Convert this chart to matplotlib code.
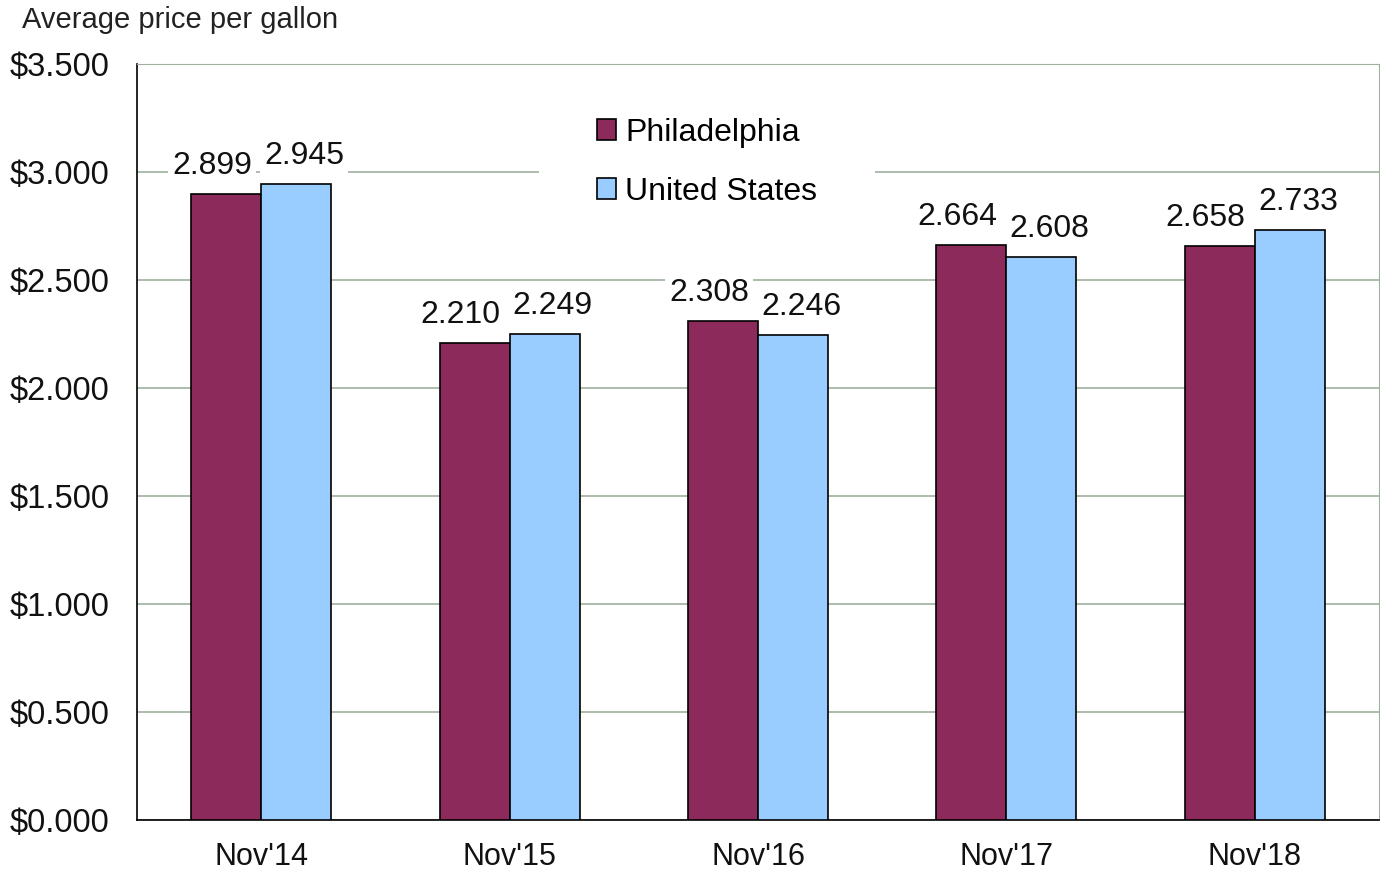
import matplotlib.pyplot as plt
import numpy as np

plt.rcParams['font.family'] = ['Liberation Sans', 'DejaVu Sans']

months = ["Nov'14", "Nov'15", "Nov'16", "Nov'17", "Nov'18"]
philadelphia = [2.899, 2.210, 2.308, 2.664, 2.658]
united_states = [2.945, 2.249, 2.246, 2.608, 2.733]
yticks = [0.0, 0.5, 1.0, 1.5, 2.0, 2.5, 3.0, 3.5]

col_phl = '#8C2A5C'
col_us = '#99CCFF'
grid_col = '#9fb09f'

fig = plt.figure(figsize=(13.8, 8.74), dpi=100)
ax = fig.add_axes([0.0993, 0.0618, 0.9, 0.865])

x = np.arange(len(months))
w = 0.282
b1 = ax.bar(x - w / 2, philadelphia, w, color=col_phl, edgecolor='black', linewidth=1.2,
            label='Philadelphia', zorder=3)
b2 = ax.bar(x + w / 2, united_states, w, color=col_us, edgecolor='black', linewidth=1.2,
            label='United States', zorder=3)

# value labels with white boxes that break the gridlines
for bars, dx in [(b1, -14), (b2, 8)]:
    for r in bars:
        h = r.get_height()
        ax.annotate(f"{h:.3f}", xy=(r.get_x() + r.get_width() / 2, h),
                    xytext=(dx, 13), textcoords='offset pixels',
                    ha='center', va='bottom', fontsize=23, color='#111111', zorder=2.8,
                    bbox=dict(facecolor='white', edgecolor='none', pad=3))

ax.set_xlim(-0.5, len(months) - 0.5)
ax.set_ylim(0, 3.5)
ax.set_yticks(yticks)
ax.set_yticklabels([f"${v:.3f}" for v in yticks], fontsize=23.5, color='#111111')
ax.set_xticks(x)
ax.set_xticklabels(months, fontsize=22, color='#111111')
ax.tick_params(axis='both', length=0)
ax.tick_params(axis='x', pad=16)
ax.tick_params(axis='y', pad=20)

ax.yaxis.grid(True, color=grid_col, linewidth=1.2, zorder=0)
ax.set_axisbelow(True)
for s in ['top', 'right']:
    ax.spines[s].set_color(grid_col)
for s in ['left', 'bottom']:
    ax.spines[s].set_color('black')
    ax.spines[s].set_linewidth(1.2)
ax.spines['top'].set_zorder(6)

leg = ax.legend(loc='center', bbox_to_anchor=(0.459, 0.87), fontsize=23,
                frameon=True, facecolor='white', edgecolor='none', framealpha=1,
                fancybox=False, borderpad=1.0, labelspacing=0.9,
                handlelength=0.6, handleheight=0.6, handletextpad=0.3,
                borderaxespad=0)
leg.get_frame().set_boxstyle('square', pad=0.8)
leg.set_zorder(5)

fig.text(22 / 1380, 1 - 20 / 874, 'Average price per gallon', fontsize=21,
         va='center', ha='left', color='#222222')

plt.savefig('out.png', dpi=100)
